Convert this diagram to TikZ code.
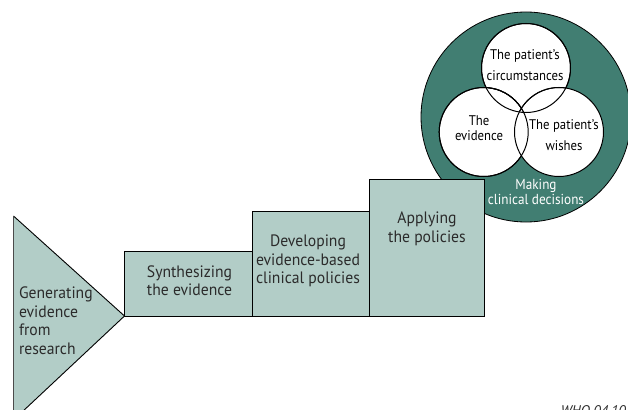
\documentclass[tikz,border=0pt]{standalone}
\usepackage{fontspec}
\setmainfont{PT Sans}
\newfontfamily\narrowfont[FakeStretch=0.95]{PT Sans}
\newfontfamily\slimfont[FakeStretch=0.91]{PT Sans}
\definecolor{pale}{HTML}{B2CDC7}
\definecolor{deep}{HTML}{417E72}
\definecolor{ink}{HTML}{2B2B2B}
\tikzset{
  stepbox/.style={fill=pale,draw=black,line width=1pt},
  venn/.style={draw=black,line width=1pt},
  dark/.style={text=ink,align=center,font=\narrowfont\fontsize{16.5}{18.5}\selectfont},
  small/.style={text=black,align=center,font=\slimfont\fontsize{14}{21}\selectfont},
  onteal/.style={text=white,align=center,font=\slimfont\fontsize{14.5}{15}\selectfont}
}
\begin{document}
\begin{tikzpicture}[x=1pt,y=-1pt]
\useasboundingbox (0,0) rectangle (628,409);
\clip (0,0) rectangle (628,409);
\fill[white] (0,0) rectangle (628,409);
% outer disc
\draw[fill=deep,draw=black,line width=0.8pt] (526,117) circle (105);
% venn
\draw[venn,fill=white] (526,68) circle (44.5);
\draw[venn,fill=white] (483.7,132) circle (44.5);
\draw[venn,fill=white] (559,132) circle (44.5);
\begin{scope}
\clip (526,68) circle (44.5);
\draw[venn] (483.7,132) circle (44.5);
\draw[venn] (559,132) circle (44.5);
\end{scope}
\draw[venn] (526,68) circle (44.5);
\draw[venn] (483.7,132) circle (44.5);
% steps
\draw[stepbox] (124.5,251) rectangle (252.5,316);
\draw[stepbox] (252.5,211) rectangle (369.5,316);
\draw[stepbox] (369.5,179.5) rectangle (484.5,316);
\fill[pale] (13.5,216) -- (124.5,316) -- (13.5,420) -- cycle;
\draw[black,line width=0.9pt] (13.5,216) -- (124.5,316) -- (13.5,420);
\draw[ink!85!white,line width=1.6pt] (13.5,216) -- (13.5,420);
% labels
\node[dark,align=left,anchor=west] (gen) at (15.5,320.5) {Generating\\evidence\\from\\research};
\node[dark] (syn) at (189.5,280.5) {Synthesizing\\the evidence};
\node[dark] (dev) at (308,261) {Developing\\evidence-based\\clinical policies};
\node[dark] (app) at (427,229) {Applying\\the policies};
\node[small] (cir) at (525,65) {The patient’s\\circumstances};
\node[small,font=\slimfont\fontsize{14}{15}\selectfont] (evi) at (479,128) {The\\evidence};
\node[small] (wis) at (564,135) {The patient’s\\wishes};
\node[onteal] (mak) at (536,191.5) {Making\\clinical decisions};
\node[anchor=base east,inner sep=0pt,text=ink,font=\itshape\fontsize{14}{15}\selectfont] (who) at (626,415) {WHO 04.10};
\end{tikzpicture}
\end{document}
